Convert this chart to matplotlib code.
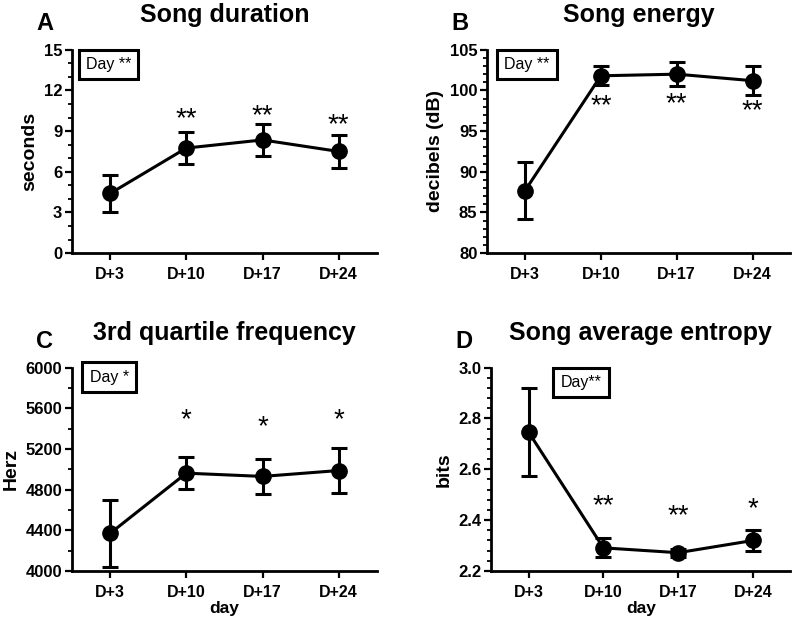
import matplotlib
matplotlib.use('Agg')
from matplotlib import pyplot as plt
from matplotlib.ticker import MultipleLocator, AutoMinorLocator

plt.rcParams['font.family'] = ['Liberation Sans', 'DejaVu Sans']

# 数据
days = ['D+3', 'D+10', 'D+17', 'D+24']

dur_mean = [4.4, 7.75, 8.35, 7.5]
dur_err = [1.37, 1.15, 1.15, 1.2]
dur_star = ['', '**', '**', '**']
dur_star_y = [0, 9.9, 10.1, 9.4]

energy_mean = [87.7, 101.8, 102.0, 101.2]
energy_err = [3.45, 1.15, 1.5, 1.75]
energy_star = ['', '**', '**', '**']
energy_star_y = [0, 98.1, 98.3, 97.5]

freq_mean = [4370, 4962, 4930, 4988]
freq_err = [330, 160, 168, 225]
freq_star = ['', '*', '*', '*']
freq_star_y = [0, 5480, 5415, 5480]

ent_mean = [2.746, 2.291, 2.272, 2.32]
ent_err = [0.173, 0.037, 0.015, 0.042]
ent_star = ['', '**', '**', '*']
ent_star_y = [0, 2.455, 2.416, 2.445]

panels = [
    # letter, title, ylabel, mean, err, stars, star_y, ylim, major, minor, box, rect
    ('A', 'Song duration', 'seconds', dur_mean, dur_err, dur_star, dur_star_y,
     (0, 15), 3, 3, ('Day **', 0.045, 0.965), [0.09, 0.593, 0.381, 0.327]),
    ('B', 'Song energy', 'decibels (dB)', energy_mean, energy_err, energy_star, energy_star_y,
     (80, 105), 5, 5, ('Day **', 0.056, 0.965), [0.609, 0.593, 0.379, 0.327]),
    ('C', '3rd quartile frequency', 'Herz', freq_mean, freq_err, freq_star, freq_star_y,
     (4000, 6000), 400, 2, ('Day *', 0.058, 0.99), [0.09, 0.082, 0.381, 0.327]),
    ('D', 'Song average entropy', 'bits', ent_mean, ent_err, ent_star, ent_star_y,
     (2.2, 3.0), 0.2, 5, ('Day**', 0.232, 0.965), [0.614, 0.082, 0.374, 0.327]),
]

fig = plt.figure(figsize=(8, 6.22), dpi=100)

for letter, title, ylab, mean, err, stars, star_y, ylim, major, minor, box, rect in panels:
    ax = fig.add_axes(rect)
    x = list(range(len(days)))
    ax.errorbar(x, mean, yerr=err, color='black', lw=2.2, marker='o', ms=11,
                capsize=6, capthick=2.2, elinewidth=2.2, zorder=3)
    for xi, s, sy in zip(x, stars, star_y):
        if s:
            ax.text(xi, sy, s, ha='center', va='center', fontsize=20)
    ax.set_xlim(-0.5, 3.5)
    ax.set_ylim(*ylim)
    ax.set_xticks(x)
    ax.set_xticklabels(days, fontsize=11.5, fontweight='bold')
    ax.yaxis.set_major_locator(MultipleLocator(major))
    ax.yaxis.set_minor_locator(AutoMinorLocator(minor))
    if ylim[1] < 10:
        ax.yaxis.set_major_formatter(plt.FormatStrFormatter('%.1f'))
    for lab in ax.get_yticklabels():
        lab.set_fontweight('bold')
        lab.set_fontsize(12)
    ax.set_ylabel(ylab, fontsize=14, fontweight='bold', labelpad=4)
    ax.spines['top'].set_visible(False)
    ax.spines['right'].set_visible(False)
    ax.spines['left'].set_linewidth(2)
    ax.spines['bottom'].set_linewidth(2)
    ax.tick_params(axis='both', which='major', width=1.6, length=5, pad=2)
    ax.tick_params(axis='y', which='minor', width=1.3, length=3)
    ax.tick_params(axis='x', pad=5)
    ax.set_title(title, fontsize=18, fontweight='bold', pad=20)
    ax.text(-0.09, 1.13, letter, transform=ax.transAxes, fontsize=17,
            fontweight='bold', va='center', ha='center')
    ax.text(box[1], box[2], box[0], transform=ax.transAxes, fontsize=11.5,
            ha='left', va='top',
            bbox=dict(boxstyle='square,pad=0.45', fc='white', ec='black', lw=2.2))
    if letter in ('C', 'D'):
        ax.set_xlabel('day', fontsize=12.5, fontweight='bold', labelpad=1)

plt.savefig('out.png', dpi=100)
